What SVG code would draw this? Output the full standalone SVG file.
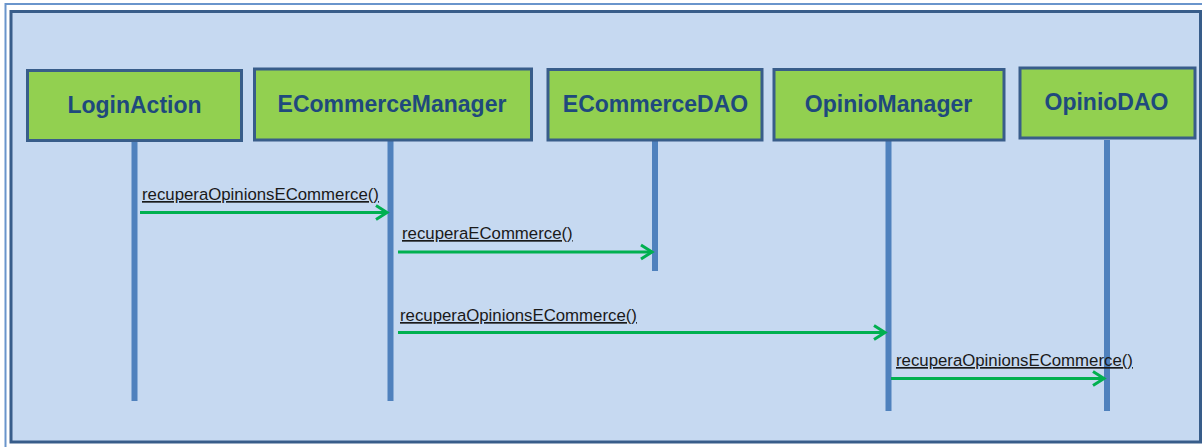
<svg xmlns="http://www.w3.org/2000/svg" width="1202" height="447" viewBox="0 0 1202 447">
<style>
.box{fill:#92D050;stroke:#385D8A;stroke-width:3}
.name{font-family:"Liberation Sans",Arial,sans-serif;font-weight:bold;font-size:23px;fill:#1F497D;text-anchor:middle}
.life{stroke:#4F81BD;stroke-width:6;fill:none}
.msg{stroke:#00B050;stroke-width:3;fill:none;marker-end:url(#ah)}
.lbl{font-family:"Liberation Sans",Arial,sans-serif;font-size:16.8px;fill:#1a1a1a;text-decoration:underline}
</style>
<defs>
<marker id="ah" markerUnits="userSpaceOnUse" markerWidth="16" markerHeight="18" refX="13" refY="8" orient="auto" viewBox="0 0 16 16">
<path d="M2,1 L13,8 L2,15" fill="none" stroke="#00B050" stroke-width="3"/>
</marker>
</defs>
<rect x="0" y="0" width="1202" height="447" fill="#FFFFFF"/>
<path d="M5.5,447 V4 H1202" fill="none" stroke="#6A95CC" stroke-width="2"/>
<rect x="11" y="11.5" width="1189.5" height="430.5" fill="#C6D9F1" stroke="#385D8A" stroke-width="3"/>
<g id="lifelines">
<line class="life" x1="134.5" y1="141" x2="134.5" y2="401"/>
<line class="life" x1="390.5" y1="140" x2="390.5" y2="401"/>
<line class="life" x1="655" y1="140" x2="655" y2="271"/>
<line class="life" x1="888.5" y1="140" x2="888.5" y2="411"/>
<line class="life" x1="1107" y1="140" x2="1107" y2="411"/>
</g>
<g id="LoginAction">
<rect class="box" x="27.5" y="70.5" width="214" height="70"/>
<text class="name" x="134.5" y="112.5">LoginAction</text>
</g>
<g id="ECommerceManager">
<rect class="box" x="254.5" y="69" width="277" height="71"/>
<text class="name" x="392" y="112">ECommerceManager</text>
</g>
<g id="ECommerceDAO">
<rect class="box" x="548" y="69.5" width="214" height="70.5"/>
<text class="name" x="655.5" y="112">ECommerceDAO</text>
</g>
<g id="OpinioManager">
<rect class="box" x="774" y="69.5" width="230" height="70.5"/>
<text class="name" x="888.5" y="112">OpinioManager</text>
</g>
<g id="OpinioDAO">
<rect class="box" x="1020" y="68" width="175" height="70"/>
<text class="name" x="1106.5" y="109.5">OpinioDAO</text>
</g>
<g id="connectors">
<line class="msg" x1="140" y1="212.5" x2="387" y2="212.5"/>
<text class="lbl" x="142" y="200">recuperaOpinionsECommerce()</text>
<line class="msg" x1="398" y1="252" x2="652" y2="252"/>
<text class="lbl" x="402" y="239">recuperaECommerce()</text>
<line class="msg" x1="398" y1="332.5" x2="885" y2="332.5"/>
<text class="lbl" x="400" y="321">recuperaOpinionsECommerce()</text>
<line class="msg" x1="891" y1="378.5" x2="1104" y2="378.5"/>
<text class="lbl" x="896" y="366">recuperaOpinionsECommerce()</text>
</g>
</svg>
